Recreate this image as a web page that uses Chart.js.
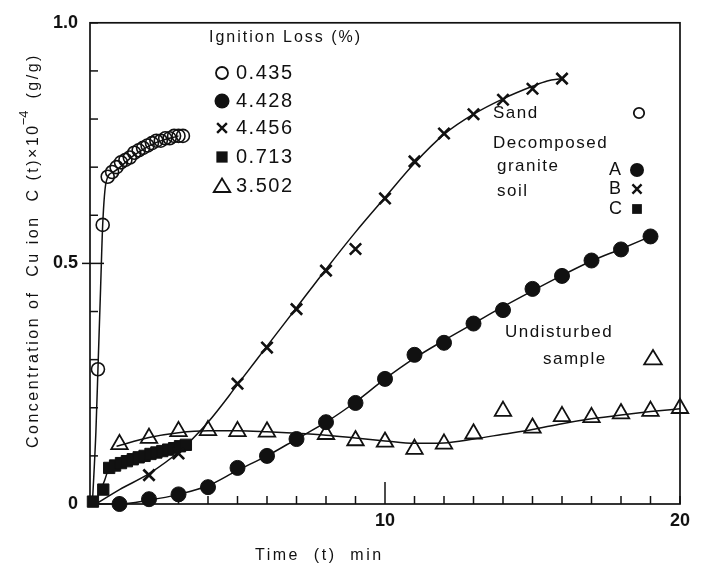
<!DOCTYPE html>
<html>
<head>
<meta charset="utf-8">
<script src="https://cdn.jsdelivr.net/npm/chart.js@4.4.1/dist/chart.umd.min.js"></script>
<style>
  html, body { margin: 0; padding: 0; background: #fff; }
  #wrap { width: 703px; height: 568px; }
</style>
</head>
<body>
<div id="wrap"><canvas id="cuChart" width="703" height="568"></canvas></div>
<script>
// --- data (time in min, concentration x10^-4 g/g)
const sandT = [0.27, 0.43, 0.6, 0.75, 0.9, 1.05, 1.2, 1.35, 1.5, 1.65, 1.8, 1.95, 2.1, 2.25, 2.4, 2.55, 2.7, 2.85, 3.0, 3.15];
const sandC = [0.28, 0.58, 0.68, 0.69, 0.70, 0.71, 0.715, 0.72, 0.73, 0.735, 0.74, 0.745, 0.75, 0.755, 0.755, 0.76, 0.76, 0.765, 0.765, 0.765];

const soilAT = [1, 2, 3, 4, 5, 6, 7, 8, 9, 10, 11, 12, 13, 14, 15, 16, 17, 18, 19];
const soilAC = [0.0, 0.01, 0.02, 0.035, 0.075, 0.1, 0.135, 0.17, 0.21, 0.26, 0.31, 0.335, 0.375, 0.403, 0.447, 0.474, 0.506, 0.529, 0.556];

const soilBT = [2, 3, 5, 6, 7, 8, 9, 10, 11, 12, 13, 14, 15, 16];
const soilBC = [0.06, 0.105, 0.25, 0.325, 0.405, 0.485, 0.53, 0.635, 0.712, 0.77, 0.81, 0.84, 0.863, 0.884];

const soilCT = [0.1, 0.45, 0.65, 0.85, 1.05, 1.25, 1.45, 1.65, 1.85, 2.05, 2.25, 2.45, 2.65, 2.85, 3.05, 3.25];
const soilCC = [0.005, 0.03, 0.075, 0.08, 0.085, 0.089, 0.093, 0.097, 0.1, 0.104, 0.107, 0.11, 0.113, 0.116, 0.12, 0.123];

const undistT = [1, 2, 3, 4, 5, 6, 8, 9, 10, 11, 12, 13, 14, 15, 16, 17, 18, 19, 20];
const undistC = [0.124, 0.137, 0.151, 0.153, 0.151, 0.15, 0.145, 0.132, 0.129, 0.114, 0.125, 0.146, 0.193, 0.158, 0.182, 0.18, 0.188, 0.193, 0.199];

// hand drawn fit curves, as traced on the figure
const sandFitT = [0.08, 0.2, 0.28, 0.36, 0.43, 0.55, 0.8, 1.5, 2.2, 3.0];
const sandFitC = [0.0, 0.15, 0.3, 0.45, 0.58, 0.67, 0.69, 0.725, 0.75, 0.765];
const fitAT = [0.2, 1, 2, 3, 4, 5, 6, 7, 8, 9, 10, 11, 12, 13, 14, 15, 16, 17, 18, 19];
const fitAC = [0.0, 0.0, 0.008, 0.02, 0.038, 0.07, 0.1, 0.135, 0.17, 0.212, 0.26, 0.303, 0.34, 0.375, 0.41, 0.443, 0.475, 0.505, 0.53, 0.556];
const fitBT = [0.2, 1, 2, 3, 4, 5, 6, 7, 8, 9, 10, 11, 12, 13, 14, 15, 15.5, 16];
const fitBC = [0.0, 0.03, 0.063, 0.108, 0.17, 0.248, 0.328, 0.408, 0.488, 0.565, 0.637, 0.708, 0.768, 0.81, 0.842, 0.868, 0.879, 0.884];
const fitCT = [0.05, 0.3, 0.5, 0.65, 1.5, 2.5, 3.25];
const fitCC = [0.0, 0.02, 0.05, 0.075, 0.094, 0.11, 0.123];
const fitUT = [0.9, 2, 3, 4, 5, 6, 7, 8, 9, 10, 11, 12, 13, 14, 15, 16, 17, 18, 19, 20];
const fitUC = [0.12, 0.138, 0.148, 0.152, 0.152, 0.15, 0.147, 0.143, 0.137, 0.131, 0.126, 0.127, 0.135, 0.145, 0.155, 0.167, 0.177, 0.185, 0.192, 0.198];

const xTickValues = [10, 20];
const xTickLabels = ['10', '20'];
const yTickValues = [0, 0.5, 1.0];
const yTickLabels = ['0', '0.5', '1.0'];

const legendTitle = 'Ignition Loss (%)';
const legendSymbols = ['openCircle', 'dot', 'cross', 'square', 'triangle'];
const legendValues = ['0.435', '4.428', '4.456', '0.713', '3.502'];

const pts = (xs, ys) => xs.map((x, i) => ({ x: x, y: ys[i] }));
const INK = '#111';
const FONT = '"Liberation Sans", Arial, sans-serif';

function markers(xs, ys, style, radius, filled, bw) {
    return {
        data: pts(xs, ys),
        showLine: false,
        pointStyle: style,
        pointRadius: radius,
        pointHoverRadius: radius,
        pointBorderColor: INK,
        pointBackgroundColor: filled ? INK : 'rgba(0,0,0,0)',
        pointBorderWidth: bw,
        clip: 12,
        order: 1
    };
}
function fit(xs, ys) {
    return {
        data: pts(xs, ys),
        showLine: true,
        borderColor: INK,
        borderWidth: 1.5,
        pointRadius: 0,
        cubicInterpolationMode: 'monotone',
        clip: 4,
        order: 5
    };
}

// small symbol used in the legend and the notes
function symbol(ctx, kind, x, y, s) {
    ctx.save();
    ctx.fillStyle = INK;
    ctx.strokeStyle = INK;
    ctx.beginPath();
    if (kind === 'openCircle') {
        ctx.lineWidth = 1.8;
        ctx.arc(x, y, s * 0.8, 0, Math.PI * 2);
        ctx.stroke();
    } else if (kind === 'dot') {
        ctx.arc(x, y, s, 0, Math.PI * 2);
        ctx.fill();
    } else if (kind === 'cross') {
        ctx.lineWidth = 2.4;
        const d = s * 0.65;
        ctx.moveTo(x - d, y - d); ctx.lineTo(x + d, y + d);
        ctx.moveTo(x + d, y - d); ctx.lineTo(x - d, y + d);
        ctx.stroke();
    } else if (kind === 'square') {
        const d = s * 0.75;
        ctx.fillRect(x - d, y - d, 2 * d, 2 * d);
    } else if (kind === 'triangle') {
        ctx.lineWidth = 1.8;
        const d = s;
        ctx.moveTo(x, y - d);
        ctx.lineTo(x + d * 1.1, y + d * 0.8);
        ctx.lineTo(x - d * 1.1, y + d * 0.8);
        ctx.closePath();
        ctx.stroke();
    }
    ctx.restore();
}

// frame, inward ticks and the text notes
const decor = {
    id: 'decor',
    beforeDatasetsDraw(chart) {
        const { ctx, chartArea: a, scales } = chart;
        ctx.save();
        ctx.strokeStyle = INK;
        ctx.lineWidth = 1.7;
        ctx.strokeRect(a.left, a.top, a.right - a.left, a.bottom - a.top);
        ctx.lineWidth = 1.5;
        scales.y.ticks.forEach(t => {
            const py = scales.y.getPixelForValue(t.value);
            const big = Math.abs(t.value - 0.5) < 1e-6;
            ctx.beginPath();
            ctx.moveTo(a.left - (big ? 8 : 0), py);
            ctx.lineTo(a.left + (big ? 14 : 8), py);
            ctx.stroke();
        });
        scales.x.ticks.forEach(t => {
            const px = scales.x.getPixelForValue(t.value);
            const big = Math.abs(t.value - 10) < 1e-6;
            ctx.beginPath();
            ctx.moveTo(px, a.bottom);
            ctx.lineTo(px, a.bottom - (big ? 22 : 8));
            ctx.stroke();
        });
        ctx.restore();
    },
    afterDraw(chart) {
        const ctx = chart.ctx;
        ctx.save();
        ctx.fillStyle = INK;
        ctx.textBaseline = 'middle';
        ctx.textAlign = 'left';

        // legend block
        ctx.font = '16px ' + FONT;
        ctx.letterSpacing = '2px';
        ctx.fillText(legendTitle, 209, 38);
        const rows = [73, 101, 128, 157, 186];
        legendSymbols.forEach((s, i) => {
            symbol(ctx, s, 222, rows[i], 7.5);
            ctx.font = '20px ' + FONT;
            ctx.letterSpacing = '1.5px';
            ctx.fillText(legendValues[i], 236, rows[i]);
        });

        // notes on the right
        ctx.font = '17px ' + FONT;
        ctx.letterSpacing = '1.5px';
        ctx.fillText('Sand', 493, 113);
        ctx.fillText('Decomposed', 493, 143);
        ctx.fillText('granite', 497, 166);
        ctx.fillText('soil', 497, 191);
        ctx.fillText('Undisturbed', 505, 332);
        ctx.fillText('sample', 543, 359);
        ctx.font = '18px ' + FONT;
        ctx.letterSpacing = '0px';
        ctx.fillText('A', 609, 170);
        ctx.fillText('B', 609, 189);
        ctx.fillText('C', 609, 209);
        symbol(ctx, 'openCircle', 639, 113, 6.5);
        symbol(ctx, 'dot', 637, 170, 7);
        symbol(ctx, 'cross', 637, 189, 7);
        symbol(ctx, 'square', 637, 209, 6.5);
        symbol(ctx, 'triangle', 653, 358, 8);

        // axis titles
        ctx.font = '16px ' + FONT;
        ctx.letterSpacing = '2.5px';
        ctx.textAlign = 'left';
        ctx.fillText('Time  (t)  min', 255, 556);

        ctx.translate(34, 448);
        ctx.rotate(-Math.PI / 2);
        const part1 = 'Concentration of  Cu ion  C (t)×10';
        ctx.fillText(part1, 0, 0);
        let w = ctx.measureText(part1).width;
        ctx.font = '13px ' + FONT;
        ctx.letterSpacing = '0px';
        ctx.fillText('−4', w - 2, -10);
        w += ctx.measureText('−4').width + 10;
        ctx.font = '16px ' + FONT;
        ctx.letterSpacing = '2.5px';
        ctx.fillText('(g/g)', w, 0);
        ctx.restore();
    }
};

new Chart(document.getElementById('cuChart'), {
    type: 'scatter',
    data: {
        datasets: [
            markers(sandT, sandC, 'circle', 6.5, false, 1.6),
            markers(soilAT, soilAC, 'circle', 7.5, true, 1),
            markers(soilBT, soilBC, 'crossRot', 8, false, 2.6),
            markers(soilCT, soilCC, 'rect', 8, true, 1),
            markers(undistT, undistC, 'triangle', 9.5, false, 1.8),
            fit(sandFitT, sandFitC),
            fit(fitAT, fitAC),
            fit(fitBT, fitBC),
            fit(fitCT, fitCC),
            fit(fitUT, fitUC)
        ]
    },
    options: {
        responsive: false,
        animation: false,
        events: [],
        layout: { padding: { top: 14, right: 23, left: 0, bottom: 0 } },
        plugins: { legend: { display: false }, tooltip: { enabled: false } },
        scales: {
            x: {
                type: 'linear',
                min: 0,
                max: 20,
                grid: { display: false, drawTicks: false },
                border: { display: false },
                ticks: {
                    stepSize: 1,
                    autoSkip: false,
                    maxRotation: 0,
                    padding: 6,
                    color: INK,
                    font: { family: FONT, size: 18, weight: 'bold' },
                    callback: v => {
                        const i = xTickValues.indexOf(Math.round(v * 10) / 10);
                        return i >= 0 ? xTickLabels[i] : '';
                    }
                },
                afterFit: s => { s.height = 64; }
            },
            y: {
                min: 0,
                max: 1,
                grid: { display: false, drawTicks: false },
                border: { display: false },
                ticks: {
                    stepSize: 0.1,
                    autoSkip: false,
                    padding: 12,
                    color: INK,
                    font: { family: FONT, size: 18, weight: 'bold' },
                    callback: v => {
                        const i = yTickValues.indexOf(Math.round(v * 10) / 10);
                        return i >= 0 ? yTickLabels[i] : '';
                    }
                },
                afterFit: s => { s.width = 90; }
            }
        }
    },
    plugins: [decor]
});
</script>
</body>
</html>
